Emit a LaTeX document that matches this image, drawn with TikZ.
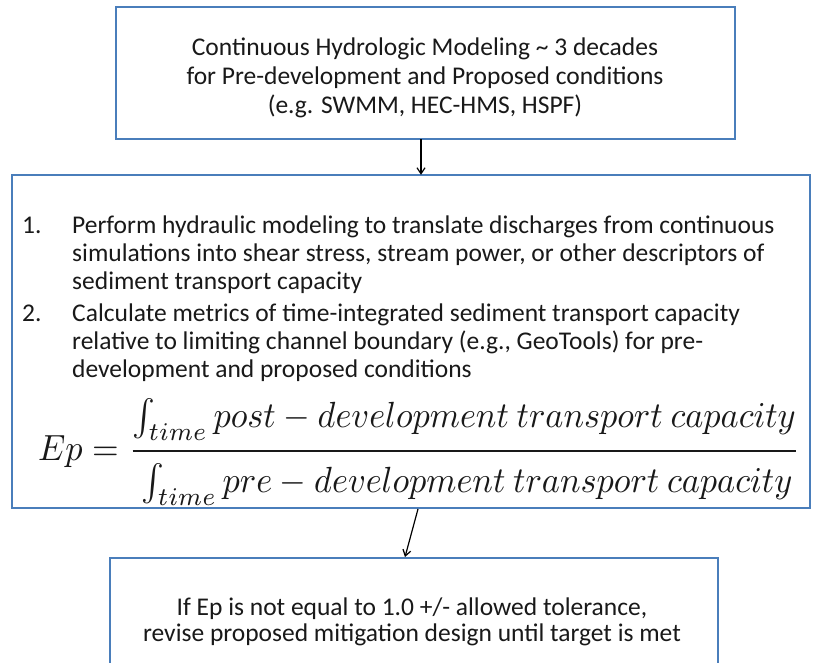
\documentclass[tikz,border=0pt]{standalone}
\usepackage{fontspec}
\setmainfont{Carlito}
\usepackage{amsmath}
\usepackage{graphicx}
\usetikzlibrary{arrows.meta}
\definecolor{boxcol}{RGB}{74,126,187}
\definecolor{txt}{RGB}{25,25,25}
\tikzset{
  box/.style={draw=boxcol, line width=1.8pt, fill=none},
  ln/.style={inner sep=0pt, text=txt, font=\fontsize{25.5}{28}\selectfont},
  conn/.style={draw=black, line width=1.2pt, -{Straight Barb[length=6pt,width=8pt,line width=1.2pt]}}
}
\begin{document}
\begin{tikzpicture}[x=1pt,y=-1pt]
\path[fill=white] (0,0) rectangle (817,662);
\useasboundingbox (0,0) rectangle (817,662);
% boxes
\path[box] (116,7) rectangle (735,139);
\node[inner sep=0pt, minimum width=619pt, minimum height=132pt] (top) at (425.5,73) {};
\path[box] (12,175) rectangle (810,508);
\node[inner sep=0pt, minimum width=798pt, minimum height=333pt] (mid) at (411,341.5) {};
\begin{scope}
\clip (0,0) rectangle (817,662);
\draw[box] (110,680) -- (110,558) -- (718,558) -- (718,680);
\end{scope}
\node[inner sep=0pt, minimum width=608pt, minimum height=110pt] (bot) at (414,613) {};
% top text
\node[ln, anchor=base] (t1) at (425,55) {Continuous Hydrologic Modeling \char`\~{} 3 decades};
\node[ln, anchor=base] (t2) at (425,84) {for Pre-development and Proposed conditions};
\node[ln, anchor=base] (t3) at (425,113) {(e.g. SWMM, HEC-HMS, HSPF)};
% middle text
\node[ln, anchor=base west] (n1) at (22,233) {1.};
\node[ln, anchor=base west] (m1) at (72,233) {Perform hydraulic modeling to translate discharges from continuous};
\node[ln, anchor=base west] (m2) at (72,261) {simulations into shear stress, stream power, or other descriptors of};
\node[ln, anchor=base west] (m3) at (72,289) {sediment transport capacity};
\node[ln, anchor=base west] (n2) at (22,321) {2.};
\node[ln, anchor=base west] (m4) at (72,321) {Calculate metrics of time-integrated sediment transport capacity};
\node[ln, anchor=base west] (m5) at (72,349) {relative to limiting channel boundary (e.g., GeoTools) for pre-};
\node[ln, anchor=base west] (m6) at (72,377) {development and proposed conditions};
\node[inner sep=0pt, anchor=west, text=txt] (eq) at (38,452) {\resizebox*{762pt}{107pt}{$Ep=\dfrac{\int_{time} post-development\ transport\ capacity\rule[-5pt]{0pt}{1pt}}{\rule{0pt}{10pt}\int_{time} pre-development\ transport\ capacity}$}};
% bottom text
\node[ln, anchor=base] (b1) at (412,615) {If Ep is not equal to 1.0 +/- allowed tolerance,};
\node[ln, anchor=base] (b2) at (412,641) {revise proposed mitigation design until target is met};
% connectors
\coordinate (c1s) at (top.south -| 421,0);
\coordinate (c1e) at (mid.north -| 421,0);
\coordinate (c2s) at (418,509);
\coordinate (c2e) at (405,557);
\draw[conn] (c1s) -- (c1e);
\draw[conn] (c2s) -- (c2e);
\end{tikzpicture}
\end{document}
